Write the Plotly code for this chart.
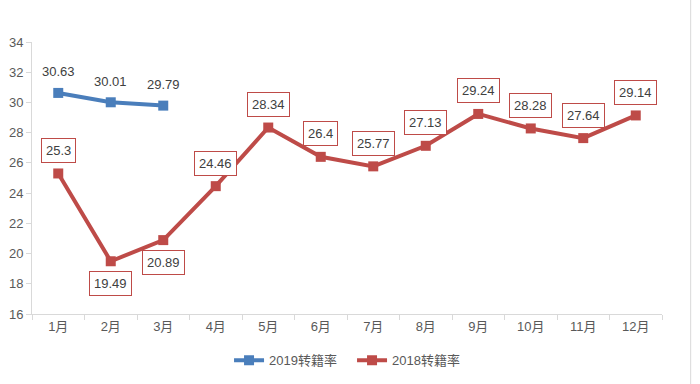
import plotly.graph_objects as go

months = ["1月", "2月", "3月", "4月", "5月", "6月", "7月", "8月", "9月", "10月", "11月", "12月"]
rate_2019 = [30.63, 30.01, 29.79]
rate_2018 = [25.3, 19.49, 20.89, 24.46, 28.34, 26.4, 25.77, 27.13, 29.24, 28.28, 27.64, 29.14]
label_pos_2018 = ["above", "below", "below", "above", "above", "above", "above", "above", "above", "above", "above", "above"]

blue = "#4a7ebb"
red = "#be4b48"
font_family = "Liberation Sans, Noto Sans CJK SC, sans-serif"

fig = go.Figure()
fig.add_trace(go.Scatter(
    x=months[:len(rate_2019)], y=rate_2019, name="2019转籍率",
    mode="lines+markers", line=dict(color=blue, width=4),
    marker=dict(symbol="square", size=10, color=blue),
))
fig.add_trace(go.Scatter(
    x=months, y=rate_2018, name="2018转籍率",
    mode="lines+markers", line=dict(color=red, width=4),
    marker=dict(symbol="square", size=10, color=red),
))

annotations = []
for m, v in zip(months, rate_2019):
    annotations.append(dict(x=m, y=v, xref="x", yref="y", text=f"{v:g}", showarrow=False,
                            yshift=21, font=dict(size=13, color="#404040", family=font_family)))
for m, v, p in zip(months, rate_2018, label_pos_2018):
    annotations.append(dict(x=m, y=v, xref="x", yref="y", text=f"{v:g}", showarrow=False,
                            yshift=23 if p == "above" else -22,
                            bgcolor="white", bordercolor=red, borderwidth=1, borderpad=4,
                            font=dict(size=13, color="#404040", family=font_family)))

fig.update_layout(
    width=700, height=384,
    margin=dict(l=32, r=38, t=42, b=70, autoexpand=False),
    paper_bgcolor="white", plot_bgcolor="white",
    font=dict(family=font_family, size=13, color="#595959"),
    showlegend=True,
    legend=dict(orientation="h", x=0.508, xanchor="center", y=-0.17, yanchor="middle",
                entrywidth=78, font=dict(size=13, color="#595959")),
    annotations=annotations,
    shapes=[dict(type="line", xref="paper", yref="paper", x0=1.0455, x1=1.0455, y0=-0.26, y1=1.16,
                 line=dict(color="#d9d9d9", width=1))],
)
fig.update_xaxes(
    automargin=False, range=[-0.5, len(months) - 0.5],
    showgrid=False, showline=True, linecolor="#d9d9d9", linewidth=1,
    ticks="outside", tickson="boundaries", ticklen=5, tickcolor="#d9d9d9",
    tickfont=dict(size=13, color="#595959"),
)
fig.update_yaxes(
    automargin=False,
    range=[16, 34], dtick=2, showgrid=False, showline=True, linecolor="#d9d9d9", linewidth=1,
    ticks="outside", ticklen=5, tickcolor="#d9d9d9", zeroline=False,
    tickfont=dict(size=13, color="#595959"),
)

fig.write_html("out.html", config={"displayModeBar": False},
               post_script="document.body.style.margin='0';document.body.style.overflow='hidden';")
